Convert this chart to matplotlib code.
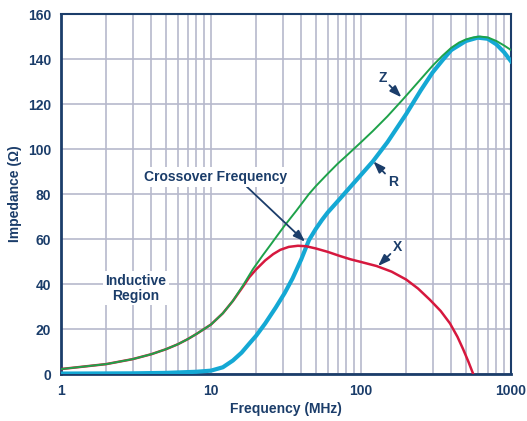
"""Impedance of a ferrite bead versus frequency: Z, R and X."""

import matplotlib
matplotlib.use("Agg")
import matplotlib.pyplot as plt
from matplotlib.ticker import FixedLocator, LogLocator, NullFormatter

NAVY = "#1b3d6a"
GRID = "#b6b9cc"

# |Z| curve
z_freq = [1, 2, 3, 4, 5, 6, 7, 8, 9, 10, 12, 14, 16.4, 19, 22, 25, 28, 31,
          37, 45, 50, 60, 70, 80, 100, 120, 150, 190, 250, 300, 350, 400,
          450, 500, 560, 620, 700, 800, 900, 1000]
z_ohm = [2.2, 4.4, 6.6, 8.8, 11.0, 13.2, 15.5, 17.8, 20.0, 22.0, 27.0, 32.5,
         39.5, 46.5, 52.5, 57.5, 62.0, 66.0, 72.5, 80.0, 83.5, 89.0, 93.5,
         97.0, 103.0, 108.0, 114.5, 122.0, 131.0, 137.0, 141.5, 145.0, 147.3,
         148.7, 149.6, 150.0, 149.6, 148.0, 146.0, 144.0]

# resistive part R
r_freq = [1, 3, 5, 8, 10, 12, 14, 16, 18, 20, 23, 27, 31, 35, 40, 45, 50, 55,
          60, 70, 80, 100, 120, 150, 200, 250, 300, 350, 400, 500, 600, 700,
          800, 900, 1000]
r_ohm = [0.2, 0.3, 0.5, 1.0, 1.5, 3.0, 6.0, 9.5, 13.5, 17.0, 22.5, 29.5, 36.0,
         42.5, 51.0, 59.5, 64.5, 68.5, 71.8, 76.8, 81.2, 88.5, 94.5, 103.0,
         115.5, 126.0, 134.0, 139.5, 144.0, 148.0, 149.5, 149.0, 146.5, 143.0,
         139.0]

# reactive part X
x_freq = [1, 2, 3, 4, 5, 6, 7, 8, 9, 10, 12, 14, 16.4, 18, 20, 23, 26, 29, 33,
          38, 43, 50, 60, 72, 85, 100, 127, 160, 200, 240, 288, 340, 392, 440,
          480, 520, 560]
x_ohm = [2.2, 4.4, 6.6, 8.8, 11.0, 13.2, 15.5, 17.8, 20.0, 22.0, 27.0, 32.5,
         39.0, 43.0, 46.5, 50.5, 53.3, 55.2, 56.5, 57.0, 56.8, 55.8, 54.3,
         52.5, 51.0, 49.8, 48.0, 45.5, 42.0, 38.0, 33.0, 28.0, 22.5, 16.5,
         11.0, 5.5, 0.0]

x_ticks = [1, 10, 100, 1000]
x_tick_labels = ["1", "10", "100", "1000"]
y_ticks = [0, 20, 40, 60, 80, 100, 120, 140, 160]

plt.rcParams["font.family"] = ["Liberation Sans", "DejaVu Sans"]
plt.rcParams["font.weight"] = "bold"

fig = plt.figure(figsize=(5.27, 4.21), dpi=100)
ax = fig.add_axes([0.1157, 0.1116, 0.8539, 0.8551])

ax.set_xscale("log")
ax.set_xlim(1, 1000)
ax.set_ylim(0, 160)

ax.plot(r_freq, r_ohm, color="#14a8d4", lw=3.0, solid_joinstyle="round", zorder=3)
ax.plot(x_freq, x_ohm, color="#d6183e", lw=1.8, solid_joinstyle="round", zorder=4)
ax.plot(z_freq, z_ohm, color="#1ea24a", lw=1.4, solid_joinstyle="round", zorder=5)

ax.xaxis.set_major_locator(FixedLocator(x_ticks))
ax.set_xticklabels(x_tick_labels)
ax.xaxis.set_minor_locator(LogLocator(base=10, subs=range(2, 10)))
ax.xaxis.set_minor_formatter(NullFormatter())
ax.set_yticks(y_ticks)
ax.grid(True, which="both", color=GRID, lw=1.2, zorder=0)
ax.set_axisbelow(True)

ax.tick_params(which="both", length=0, colors=NAVY, labelsize=10)
ax.tick_params(axis="x", pad=7)
ax.tick_params(axis="y", pad=7)
for lbl in ax.get_xticklabels() + ax.get_yticklabels():
    lbl.set_fontweight("bold")
for side, spine in ax.spines.items():
    spine.set_color(NAVY)
    spine.set_linewidth(2.0 if side in ("left", "bottom") else 1.5)

ax.set_xlabel("Frequency (MHz)", color=NAVY, fontsize=10, fontweight="bold", labelpad=3)
ax.set_ylabel("Impedance (\u03a9)", color=NAVY, fontsize=10, fontweight="bold", labelpad=4)

arrow = dict(arrowstyle="-|>,head_length=0.7,head_width=0.25", color=NAVY, lw=1.3,
             shrinkA=0, shrinkB=0)
text_kw = dict(color=NAVY, fontsize=10, fontweight="bold", ha="center", va="center")

ax.annotate("Z", xy=(186, 123), xytext=(139, 131.5), arrowprops=arrow, zorder=6, **text_kw)
ax.annotate("R", xy=(121, 94.5), xytext=(163, 85.5), arrowprops=arrow, zorder=6, **text_kw)
ax.annotate("X", xy=(130, 48.0), xytext=(176, 56.6), arrowprops=arrow, zorder=6, **text_kw)

ax.annotate("", xy=(42.4, 58.8), xytext=(17.3, 83.3), arrowprops=arrow, zorder=6)
ax.text(10.8, 87.6, "Crossover Frequency", zorder=7,
        bbox=dict(facecolor="white", edgecolor="none", pad=2), **text_kw)
ax.text(3.16, 38.2, "Inductive\nRegion", zorder=7, linespacing=1.1,
        bbox=dict(facecolor="white", edgecolor="none", pad=2), **text_kw)

fig.savefig("out.png", dpi=100)
